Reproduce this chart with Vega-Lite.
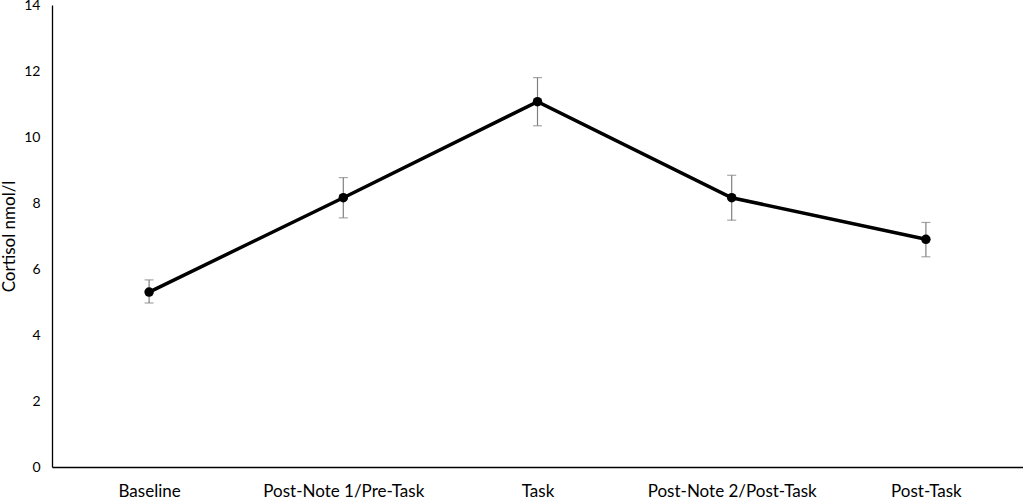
{
  "$schema": "https://vega.github.io/schema/vega-lite/v6.json",
  "autosize": "none",
  "width": 971,
  "height": 462,
  "padding": {"left": 52, "top": 5, "right": 0, "bottom": 35},
  "background": "white",
  "config": {
    "view": {"stroke": null},
    "font": "Lato",
    "axis": {"grid": false, "ticks": false, "domainColor": "#000000", "domainWidth": 1.3, "labelColor": "#000000", "titleColor": "#000000", "labelFont": "Lato", "titleFont": "Lato"}
  },
  "data": {
    "values": [
      {"phase": "Baseline", "mean": 5.30, "lo": 4.97, "hi": 5.67},
      {"phase": "Post-Note 1/Pre-Task", "mean": 8.16, "lo": 7.55, "hi": 8.77},
      {"phase": "Task", "mean": 11.07, "lo": 10.34, "hi": 11.80},
      {"phase": "Post-Note 2/Post-Task", "mean": 8.16, "lo": 7.48, "hi": 8.84},
      {"phase": "Post-Task", "mean": 6.90, "lo": 6.37, "hi": 7.41}
    ]
  },
  "encoding": {
    "x": {
      "field": "phase", "type": "nominal", "sort": null,
      "scale": {"type": "point", "padding": 0.5},
      "axis": {"title": null, "labelAngle": 0, "labelFontSize": 17, "labelPadding": 16}
    }
  },
  "layer": [
    {
      "mark": {"type": "rule", "color": "#808080", "strokeWidth": 1.2},
      "encoding": {
        "y": {"field": "lo", "type": "quantitative", "scale": {"domain": [0, 14]},
          "axis": {"title": "Cortisol nmol/l", "titleFontSize": 17, "titleFontWeight": "normal", "titlePadding": 5, "labelFontSize": 14, "labelPadding": 12, "values": [0, 2, 4, 6, 8, 10, 12, 14]}},
        "y2": {"field": "hi"}
      }
    },
    {
      "mark": {"type": "tick", "color": "#808080", "size": 9, "thickness": 1.2},
      "encoding": {"y": {"field": "lo", "type": "quantitative"}}
    },
    {
      "mark": {"type": "tick", "color": "#808080", "size": 9, "thickness": 1.2},
      "encoding": {"y": {"field": "hi", "type": "quantitative"}}
    },
    {
      "mark": {"type": "line", "color": "#000000", "strokeWidth": 3.5},
      "encoding": {"y": {"field": "mean", "type": "quantitative"}}
    },
    {
      "mark": {"type": "point", "filled": true, "color": "#000000", "size": 90, "opacity": 1},
      "encoding": {"y": {"field": "mean", "type": "quantitative"}}
    }
  ]
}
